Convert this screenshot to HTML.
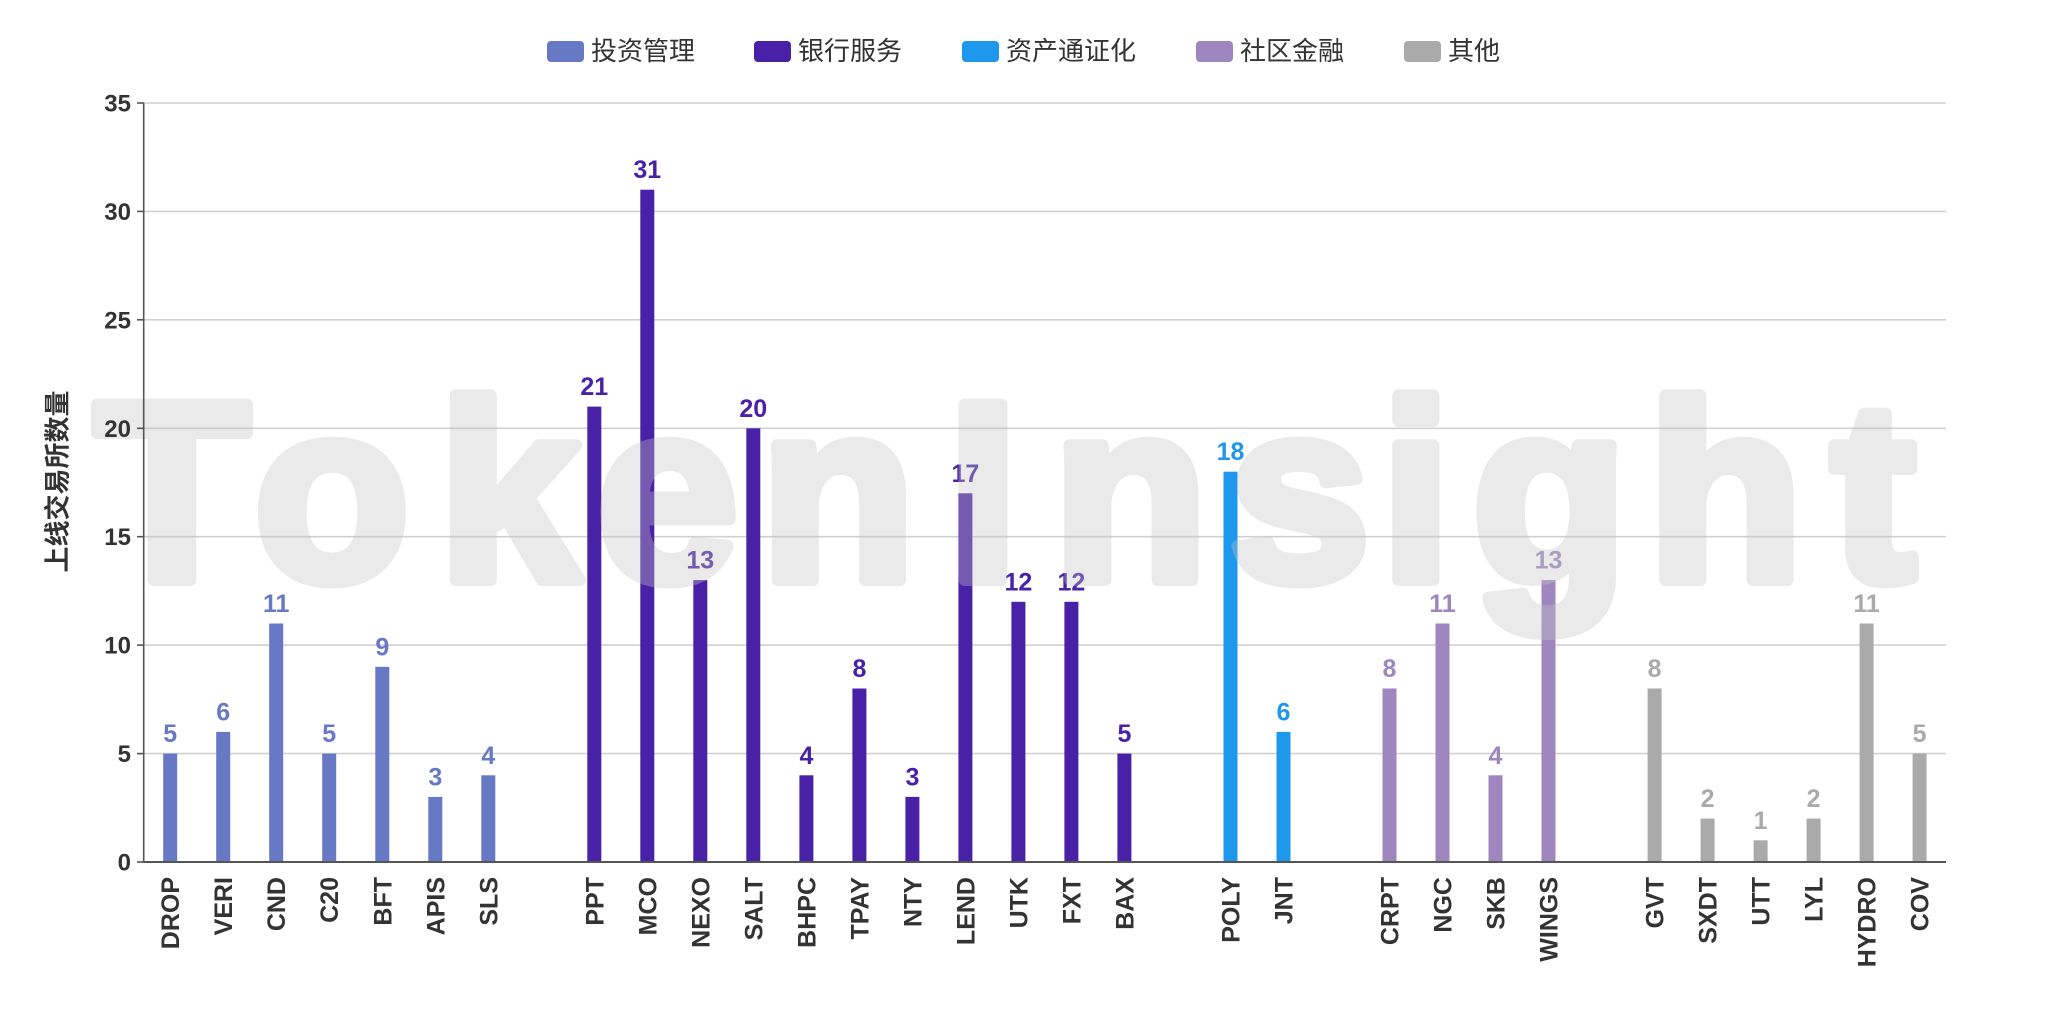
<!DOCTYPE html>
<html><head><meta charset="utf-8"><style>
html,body{margin:0;padding:0;background:#fff;}
svg{display:block;}
.t{font-family:"Liberation Sans",Arial,sans-serif;font-weight:bold;}
.tk{font-size:24px;fill:#333;text-anchor:end;}
.xl{font-size:25px;fill:#333;text-anchor:end;}
.v{font-size:25px;text-anchor:middle;}
.lg{font-family:"Liberation Sans","Noto Sans CJK SC",sans-serif;font-size:26px;fill:#333;dominant-baseline:central;}
.c1{fill:#6779c4}.c2{fill:#4921a6}.c3{fill:#1e98ec}.c4{fill:#a086bf}.c5{fill:#aaaaaa}
</style></head><body>
<svg width="2048" height="1023" viewBox="0 0 2048 1023" xmlns="http://www.w3.org/2000/svg">
<rect width="2048" height="1023" fill="#fff"/>
<!-- legend -->
<rect x="547" y="41" width="37" height="21" rx="4" class="c1"/><text x="591" y="51" class="lg">投资管理</text>
<rect x="754" y="41" width="37" height="21" rx="4" class="c2"/><text x="798" y="51" class="lg">银行服务</text>
<rect x="962" y="41" width="37" height="21" rx="4" class="c3"/><text x="1006" y="51" class="lg">资产通证化</text>
<rect x="1196" y="41" width="37" height="21" rx="4" class="c4"/><text x="1240" y="51" class="lg">社区金融</text>
<rect x="1404" y="41" width="37" height="21" rx="4" class="c5"/><text x="1448" y="51" class="lg">其他</text>
<!-- gridlines -->
<g stroke="#d0d0d0" stroke-width="1.6">
<line x1="144" y1="103" x2="1946" y2="103"/>
<line x1="144" y1="211.4" x2="1946" y2="211.4"/>
<line x1="144" y1="319.8" x2="1946" y2="319.8"/>
<line x1="144" y1="428.3" x2="1946" y2="428.3"/>
<line x1="144" y1="536.7" x2="1946" y2="536.7"/>
<line x1="144" y1="645.1" x2="1946" y2="645.1"/>
<line x1="144" y1="753.6" x2="1946" y2="753.6"/>
</g>
<!-- bars -->
<g>
<rect class="c1" x="163.2" y="753.6" width="14" height="108.4"/>
<rect class="c1" x="216.2" y="731.9" width="14" height="130.1"/>
<rect class="c1" x="269.2" y="623.5" width="14" height="238.5"/>
<rect class="c1" x="322.2" y="753.6" width="14" height="108.4"/>
<rect class="c1" x="375.3" y="666.8" width="14" height="195.2"/>
<rect class="c1" x="428.3" y="796.9" width="14" height="65.1"/>
<rect class="c1" x="481.3" y="775.3" width="14" height="86.7"/>
<rect class="c2" x="587.3" y="406.6" width="14" height="455.4"/>
<rect class="c2" x="640.3" y="189.7" width="14" height="672.3"/>
<rect class="c2" x="693.3" y="580.1" width="14" height="281.9"/>
<rect class="c2" x="746.3" y="428.3" width="14" height="433.7"/>
<rect class="c2" x="799.4" y="775.3" width="14" height="86.7"/>
<rect class="c2" x="852.4" y="688.5" width="14" height="173.5"/>
<rect class="c2" x="905.4" y="796.9" width="14" height="65.1"/>
<rect class="c2" x="958.4" y="493.3" width="14" height="368.7"/>
<rect class="c2" x="1011.4" y="601.8" width="14" height="260.2"/>
<rect class="c2" x="1064.4" y="601.8" width="14" height="260.2"/>
<rect class="c2" x="1117.4" y="753.6" width="14" height="108.4"/>
<rect class="c3" x="1223.5" y="471.7" width="14" height="390.3"/>
<rect class="c3" x="1276.5" y="731.9" width="14" height="130.1"/>
<rect class="c4" x="1382.5" y="688.5" width="14" height="173.5"/>
<rect class="c4" x="1435.5" y="623.5" width="14" height="238.5"/>
<rect class="c4" x="1488.5" y="775.3" width="14" height="86.7"/>
<rect class="c4" x="1541.5" y="580.1" width="14" height="281.9"/>
<rect class="c5" x="1647.6" y="688.5" width="14" height="173.5"/>
<rect class="c5" x="1700.6" y="818.6" width="14" height="43.4"/>
<rect class="c5" x="1753.6" y="840.3" width="14" height="21.7"/>
<rect class="c5" x="1806.6" y="818.6" width="14" height="43.4"/>
<rect class="c5" x="1859.6" y="623.5" width="14" height="238.5"/>
<rect class="c5" x="1912.6" y="753.6" width="14" height="108.4"/>
</g>
<!-- value labels -->
<g class="t v">
<text class="c1" x="170.2" y="742.1">5</text>
<text class="c1" x="223.2" y="720.4">6</text>
<text class="c1" x="276.2" y="612.0">11</text>
<text class="c1" x="329.2" y="742.1">5</text>
<text class="c1" x="382.3" y="655.3">9</text>
<text class="c1" x="435.3" y="785.4">3</text>
<text class="c1" x="488.3" y="763.8">4</text>
<text class="c2" x="594.3" y="395.1">21</text>
<text class="c2" x="647.3" y="178.2">31</text>
<text class="c2" x="700.3" y="568.6">13</text>
<text class="c2" x="753.3" y="416.8">20</text>
<text class="c2" x="806.4" y="763.8">4</text>
<text class="c2" x="859.4" y="677.0">8</text>
<text class="c2" x="912.4" y="785.4">3</text>
<text class="c2" x="965.4" y="481.8">17</text>
<text class="c2" x="1018.4" y="590.3">12</text>
<text class="c2" x="1071.4" y="590.3">12</text>
<text class="c2" x="1124.4" y="742.1">5</text>
<text class="c3" x="1230.5" y="460.2">18</text>
<text class="c3" x="1283.5" y="720.4">6</text>
<text class="c4" x="1389.5" y="677.0">8</text>
<text class="c4" x="1442.5" y="612.0">11</text>
<text class="c4" x="1495.5" y="763.8">4</text>
<text class="c4" x="1548.5" y="568.6">13</text>
<text class="c5" x="1654.6" y="677.0">8</text>
<text class="c5" x="1707.6" y="807.1">2</text>
<text class="c5" x="1760.6" y="828.8">1</text>
<text class="c5" x="1813.6" y="807.1">2</text>
<text class="c5" x="1866.6" y="612.0">11</text>
<text class="c5" x="1919.6" y="742.1">5</text>
</g>
<!-- watermark -->
<g opacity="0.35">
<text font-family="'Liberation Sans',Arial,sans-serif" font-weight="bold" font-size="255" fill="rgb(197,197,197)" stroke="rgb(197,197,197)" stroke-width="12" stroke-linejoin="round" y="580" x="94 254 438 596.5 760 947.5 1052.5 1228.5 1380.5 1472 1647.5 1831">TokenInsight</text>
</g>
<!-- axes -->
<line x1="143.7" y1="103" x2="143.7" y2="862" stroke="#555" stroke-width="1.6"/>
<line x1="143" y1="862" x2="1946" y2="862" stroke="#555" stroke-width="2"/>
<g stroke="#555" stroke-width="1.6">
<line x1="137" y1="103" x2="144" y2="103"/>
<line x1="137" y1="211.4" x2="144" y2="211.4"/>
<line x1="137" y1="319.8" x2="144" y2="319.8"/>
<line x1="137" y1="428.3" x2="144" y2="428.3"/>
<line x1="137" y1="536.7" x2="144" y2="536.7"/>
<line x1="137" y1="645.1" x2="144" y2="645.1"/>
<line x1="137" y1="753.6" x2="144" y2="753.6"/>
<line x1="137" y1="862" x2="144" y2="862"/>
</g>
<g class="t tk">
<text x="131" y="111.5">35</text>
<text x="131" y="219.9">30</text>
<text x="131" y="328.3">25</text>
<text x="131" y="436.8">20</text>
<text x="131" y="545.2">15</text>
<text x="131" y="653.6">10</text>
<text x="131" y="762.1">5</text>
<text x="131" y="870.5">0</text>
</g>
<text transform="translate(57.5,481.5) rotate(-90)" text-anchor="middle" dominant-baseline="central" font-family="'Liberation Sans','Noto Sans CJK SC',sans-serif" font-weight="bold" font-size="26" fill="#333">上线交易所数量</text>
<!-- x labels -->
<g class="t xl">
<text transform="translate(179.2,877) rotate(-90)">DROP</text>
<text transform="translate(232.2,877) rotate(-90)">VERI</text>
<text transform="translate(285.2,877) rotate(-90)">CND</text>
<text transform="translate(338.2,877) rotate(-90)">C20</text>
<text transform="translate(391.3,877) rotate(-90)">BFT</text>
<text transform="translate(444.3,877) rotate(-90)">APIS</text>
<text transform="translate(497.3,877) rotate(-90)">SLS</text>
<text transform="translate(603.3,877) rotate(-90)">PPT</text>
<text transform="translate(656.3,877) rotate(-90)">MCO</text>
<text transform="translate(709.3,877) rotate(-90)">NEXO</text>
<text transform="translate(762.3,877) rotate(-90)">SALT</text>
<text transform="translate(815.4,877) rotate(-90)">BHPC</text>
<text transform="translate(868.4,877) rotate(-90)">TPAY</text>
<text transform="translate(921.4,877) rotate(-90)">NTY</text>
<text transform="translate(974.4,877) rotate(-90)">LEND</text>
<text transform="translate(1027.4,877) rotate(-90)">UTK</text>
<text transform="translate(1080.4,877) rotate(-90)">FXT</text>
<text transform="translate(1133.4,877) rotate(-90)">BAX</text>
<text transform="translate(1239.5,877) rotate(-90)">POLY</text>
<text transform="translate(1292.5,877) rotate(-90)">JNT</text>
<text transform="translate(1398.5,877) rotate(-90)">CRPT</text>
<text transform="translate(1451.5,877) rotate(-90)">NGC</text>
<text transform="translate(1504.5,877) rotate(-90)">SKB</text>
<text transform="translate(1557.5,877) rotate(-90)">WINGS</text>
<text transform="translate(1663.6,877) rotate(-90)">GVT</text>
<text transform="translate(1716.6,877) rotate(-90)">SXDT</text>
<text transform="translate(1769.6,877) rotate(-90)">UTT</text>
<text transform="translate(1822.6,877) rotate(-90)">LYL</text>
<text transform="translate(1875.6,877) rotate(-90)">HYDRO</text>
<text transform="translate(1928.6,877) rotate(-90)">COV</text>
</g>
</svg>
</body></html>
